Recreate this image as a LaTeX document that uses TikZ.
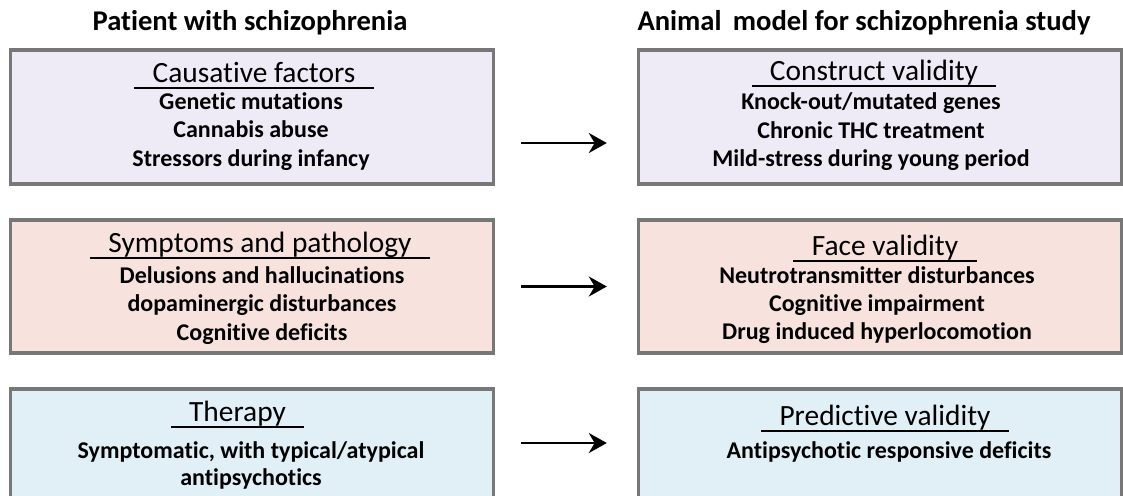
\documentclass[tikz,border=0pt]{standalone}
\usepackage{fontspec}
\setmainfont{Carlito}[Ligatures=NoCommon]
\usetikzlibrary{arrows.meta,positioning,calc}
\definecolor{boxline}{HTML}{777777}
\definecolor{lilac}{HTML}{EEEBF7}
\definecolor{blush}{HTML}{F7E2DE}
\definecolor{icy}{HTML}{E1F0F6}

\begin{document}
\begin{tikzpicture}[x=0.5pt,y=-0.5pt,>={Stealth[length=9pt,width=10pt]},
 panel/.style={draw=boxline,line width=1.7pt,minimum width=241.5pt,inner sep=0pt},
 title/.style={font=\bfseries\fontsize{14.3}{16}\selectfont,anchor=base},
 head/.style={font=\fontsize{14.7}{17}\selectfont,anchor=base,inner xsep=9pt,inner ysep=0pt},
 item/.style={font=\bfseries\fontsize{12}{14}\selectfont,anchor=base,inner sep=0pt},
 rule/.style={line width=0.6pt},
 flow/.style={->,line width=1.3pt,shorten <=13pt,shorten >=15pt}]
\useasboundingbox (0,0) rectangle (1123,495);
% column titles
\node[title] (tleft) at (250,30) {Patient with schizophrenia};
\node[title] (tright) at (864,30) {Animal\,\ model for schizophrenia study};
% panels
\node[panel,fill=lilac,minimum height=67pt] (cause) at (252,117) {};
\node[panel,fill=lilac,minimum height=67pt] (construct) at (880,117) {};
\node[panel,fill=blush,minimum height=66.5pt] (symptom) at (252,286.5) {};
\node[panel,fill=blush,minimum height=66.5pt] (face) at (880,286.5) {};
\node[panel,fill=icy,minimum height=56pt] (therapy) at (252,445) {};
\node[panel,fill=icy,minimum height=56pt] (predict) at (880,445) {};
% headings
\node[head] (hcause) at (254,82) {Causative factors};
\node[head] (hconstruct) at (874,80) {Construct validity};
\node[head] (hsymptom) at (260,252) {Symptoms and pathology};
\node[head] (hface) at (885,255) {Face validity};
\node[head] (htherapy) at (237.5,421) {Therapy};
\node[head] (hpredict) at (885,425) {Predictive validity};
\foreach \h in {hcause,hconstruct,hsymptom,hface,htherapy,hpredict}
  \draw[rule] ([yshift=-3pt]\h.base west) -- ([yshift=-3pt]\h.base east);
% contents
\foreach \txt [count=\k] in {Genetic mutations,Cannabis abuse,Stressors during infancy}
  \node[item] (cause-\k) at (251,{80.5+28.5*\k}) {\txt};
\foreach \txt [count=\k] in {{Knock-out/mutated genes},Chronic THC treatment,Mild-stress during young period}
  \node[item] (construct-\k) at (871,{81+28.5*\k}) {\txt};
\foreach \txt [count=\k] in {Delusions and hallucinations,dopaminergic disturbances,Cognitive deficits}
  \node[item] (symptom-\k) at (262,{254.5+28.5*\k}) {\txt};
\foreach \txt [count=\k] in {Neutrotransmitter disturbances,Cognitive impairment,Drug induced hyperlocomotion}
  \node[item] (face-\k) at (877,{255+28*\k}) {\txt};
\foreach \txt [count=\k] in {{Symptomatic, with typical/atypical},antipsychotics}
  \node[item] (therapy-\k) at (251,{431+27*\k}) {\txt};
\node[item] (predict-1) at (889,458) {Antipsychotic responsive deficits};
% arrows
\draw[flow] ([yshift=-13pt]cause.east) -- ([yshift=-13pt]construct.west);
\draw[flow] (symptom) -- (face);
\draw[flow] ([yshift=1pt]therapy.east) -- ([yshift=1pt]predict.west);
\end{tikzpicture}
\end{document}
